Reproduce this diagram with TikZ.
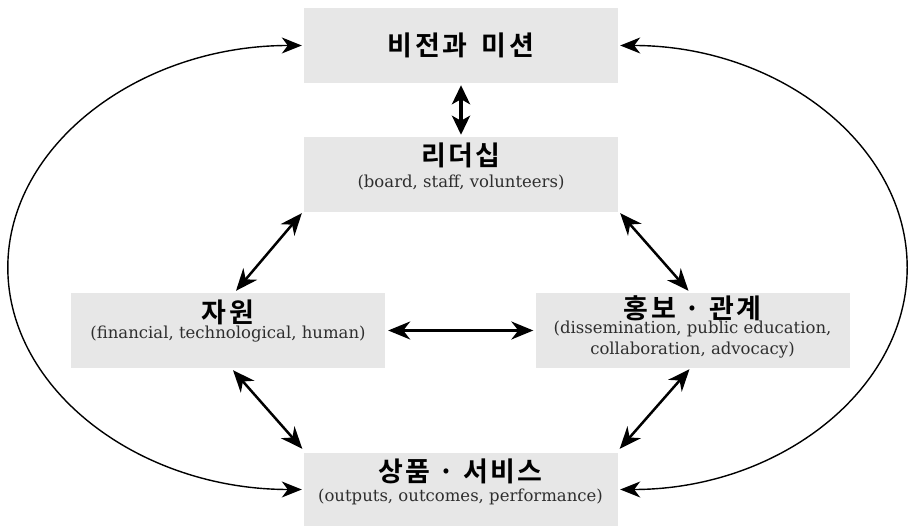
\documentclass[tikz,border=0pt]{standalone}
\usepackage{fontspec}
\usetikzlibrary{arrows.meta}
\setmainfont{DejaVu Serif}
\newfontfamily\krtitle{Noto Sans CJK KR Bold}[LetterSpace=9]
\definecolor{boxgray}{HTML}{E7E7E7}
\definecolor{subtext}{HTML}{2E2E2E}
\tikzset{
  panel/.style={fill=boxgray, draw=none, minimum width=314pt, minimum height=75pt, inner sep=0pt},
  headline/.style={font=\krtitle\fontsize{27}{29}\selectfont, inner sep=0pt, text=black},
  subline/.style={font=\fontsize{16.5}{21}\selectfont, inner sep=0pt, text=subtext, align=center},
  loop/.style={line width=1.4pt, {Stealth[length=20pt,width=16pt,inset=6pt]}-{Stealth[length=20pt,width=16pt,inset=6pt]}},
  link/.style={line width=2.5pt, {Stealth[length=22pt,width=18pt,inset=7pt]}-{Stealth[length=22pt,width=18pt,inset=7pt]}},
  biglink/.style={line width=3.6pt, {Stealth[length=19pt,width=18pt,inset=5pt]}-{Stealth[length=19pt,width=18pt,inset=5pt]}}
}
\begin{document}
\begin{tikzpicture}[x=1pt,y=1pt]
\useasboundingbox (0,0) rectangle (909,526);

% grey panels
\node[panel] (vision) at (461,480.5) {};
\node[panel] (leader) at (461,351.5) {};
\node[panel] (res) at (228,195.5) {};
\node[panel] (pr) at (692.5,195.5) {};
\node[panel, minimum height=73pt] (prod) at (460.5,36.5) {};

% panel texts
\node[headline] (visiont) at (vision.center) {비전과\hspace{6pt} 미션};
\node[headline] (leadert) at ([yshift=19pt]leader.center) {리더십};
\node[subline] (leaders) at ([yshift=-8pt]leader.center) {(board, staff, volunteers)};
\node[headline] (rest) at ([yshift=18pt]res.center) {자원};
\node[subline] (ress) at ([yshift=-4pt]res.center) {(financial, technological, human)};
\node[headline] (prt) at ([yshift=22pt]pr.center) {홍보 · 관계};
\node[subline] (prs) at ([yshift=-9pt]pr.center) {(dissemination, public education,\\collaboration, advocacy)};
\node[headline] (prodt) at ([yshift=18pt]prod.center) {상품 · 서비스};
\node[subline] (prods) at ([yshift=-7pt]prod.center) {(outputs, outcomes, performance)};

% outer loops
\draw[loop] ([xshift=-2pt]vision.west) arc[start angle=90, end angle=270, x radius=294pt, y radius=222pt];
\draw[loop] ([xshift=2pt]vision.east) arc[start angle=90, end angle=-90, x radius=287pt, y radius=222pt];

% inner links
\draw[biglink] ([yshift=-2pt]vision.south) -- ([yshift=2pt]leader.north);
\draw[link] ([xshift=-2pt,yshift=-1pt]leader.south west) -- ([xshift=8pt,yshift=2pt]res.north);
\draw[link] ([xshift=2pt,yshift=-1pt]leader.south east) -- ([xshift=-4pt,yshift=2pt]pr.north);
\draw[link] ([xshift=3pt]res.east) -- ([xshift=-2pt]pr.west);
\draw[link] ([xshift=5pt,yshift=-2pt]res.south) -- ([xshift=-1pt,yshift=4pt]prod.north west);
\draw[link] ([xshift=-3pt,yshift=-1pt]pr.south) -- ([xshift=2pt,yshift=4pt]prod.north east);
\end{tikzpicture}
\end{document}
